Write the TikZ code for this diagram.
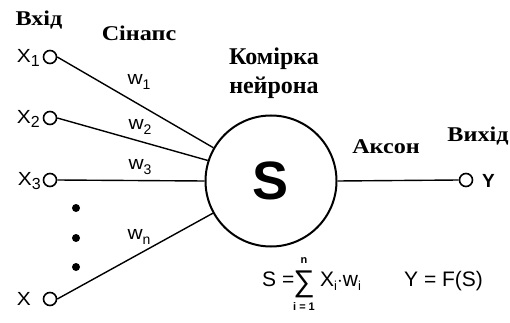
\documentclass[tikz,border=0pt]{standalone}
\usepackage{fontspec}
\setmainfont{Liberation Serif}
\setsansfont{Liberation Sans}
\newcommand\sbs[1]{\raisebox{-0.45ex}{\fontsize{16}{16}\selectfont #1}}
\newcommand\sbw[1]{\raisebox{-0.5ex}{\fontsize{14}{14}\selectfont #1}}
\newcommand\sbsm[1]{\raisebox{-0.45ex}{\fontsize{13}{13}\selectfont #1}}
\newcommand\wide[1]{\scalebox{1.1}[1]{#1}}
\newcommand\wider[1]{\scalebox{1.15}[1]{#1}}
\begin{document}
\begin{tikzpicture}[x=1pt,y=-1pt,
  title/.style={font=\fontsize{21}{21}\selectfont\bfseries, inner sep=0pt},
  bigtitle/.style={font=\fontsize{24}{24}\selectfont\bfseries, inner sep=0pt},
  lab/.style={font=\fontsize{19}{19}\selectfont\sffamily, inner sep=0pt},
  wlab/.style={font=\fontsize{19}{19}\selectfont\sffamily, inner sep=0pt},
  form/.style={font=\fontsize{21}{21}\selectfont\sffamily, inner sep=0pt},
  lim/.style={font=\fontsize{11}{11}\selectfont\sffamily\bfseries, inner sep=0pt},
  term/.style={circle, draw, line width=1.6pt, minimum size=13pt, inner sep=0pt},
  wire/.style={line width=1.4pt},
  dotm/.style={circle, fill, minimum size=8pt, inner sep=0pt}]
\useasboundingbox (0,0) rectangle (510,323);
% input terminals
\node[term] (i1) at (50,57) {};
\node[term] (i2) at (50,118) {};
\node[term] (i3) at (50,180) {};
\node[term] (in) at (50,299) {};
\node[term] (out) at (466,180) {};
% neuron body
\node[circle, draw, line width=2pt, minimum size=131pt, inner sep=0pt,
      font=\fontsize{54}{54}\selectfont\bfseries\sffamily] (S) at (271,181) {S};
% connectors
\draw[wire] (i1.east) -- (S.150.4);
\draw[wire] (i2.east) -- (S.162.6);
\draw[wire] (i3.east) -- (S.west);
\draw[wire] (in.east) -- (S.209.6);
\draw[wire] (S.east) -- (out.west);
% dots
\node[dotm] (d1) at (76,208) {};
\node[dotm] (d2) at (76,238) {};
\node[dotm] (d3) at (76,267) {};
% input labels
\node[lab, anchor=east] (lx1) at (40,58) {\wide{X}\sbs{1}};
\node[lab, anchor=east] (lx2) at (40,119) {\wide{X}\sbs{2}};
\node[lab, anchor=east] (lx3) at (41,181) {\wide{X}\sbs{3}};
\node[lab, anchor=east] (lxn) at (31,299) {\wide{X}};
\node[lab, anchor=west] (ly) at (482,181) {\bfseries Y};
% weights
\node[wlab] (w1) at (139,82) {\wide{w}\sbw{1}};
\node[wlab] (w2) at (140,127) {\wide{w}\sbw{2}};
\node[wlab] (w3) at (140,167) {\wide{w}\sbw{3}};
\node[wlab] (wn) at (139,237) {\wide{w}\sbw{n}};
% titles
\node[title] (t1) at (39,20) {\wider{Вхід}};
\node[title] (t2) at (139,33) {\wider{Сінапс}};
\node[bigtitle] (t3) at (274,59) {Комірка};
\node[bigtitle] (t4) at (274,88) {нейрона};
\node[title] (t5) at (386,147) {\wider{Аксон}};
\node[title] (t6) at (478,136) {\wider{Вихід}};
% formulas
\node[form, anchor=base west] (f1) at (262,286) {S =};
\node[form, anchor=base, font=\fontsize{30}{30}\selectfont\sffamily] (f2) at (304,291) {∑};
\node[lim] (f3) at (304,261) {n};
\node[lim] (f4) at (304,307) {i = 1};
\node[form, anchor=base west] (f5) at (320,286) {X\sbsm{i}$\cdot$w\sbsm{i}};
\node[form, anchor=base west] (f6) at (404,286) {Y = F(S)};
\end{tikzpicture}
\end{document}
